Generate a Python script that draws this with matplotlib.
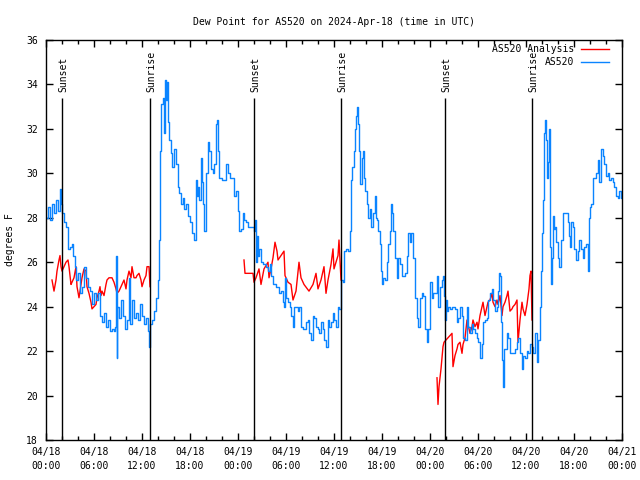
import matplotlib
matplotlib.use('Agg')
import matplotlib.pyplot as plt
import numpy as np

# hours since 2024-04-18 00:00 UTC
obs_hours = [
    0, 0.25, 0.5, 0.75, 1.0, 1.25, 1.5, 1.75, 1.875, 2.0, 2.25, 2.5, 2.75, 3.0, 3.25, 3.375,
    3.625, 3.75, 4.0, 4.25, 4.5, 4.75, 5.0, 5.25, 5.5, 5.75, 6.0, 6.25, 6.5, 6.75, 7.0, 7.25,
    7.5, 7.75, 8.0, 8.25, 8.5, 8.625, 8.75, 8.8125, 8.875, 9.125, 9.375, 9.625, 9.875, 10.125,
    10.375, 10.5, 10.75, 11.0, 11.25, 11.5, 11.75, 12.0, 12.25, 12.5, 12.75, 12.875, 13.0,
    13.25, 13.5, 13.75, 14.0, 14.125, 14.1875, 14.25, 14.375, 14.625, 14.75, 14.875, 15.0,
    15.125, 15.25, 15.375, 15.625, 15.75, 16.0, 16.25, 16.5, 16.625, 16.875, 17.125, 17.25,
    17.5, 17.75, 18.0, 18.25, 18.5, 18.75, 18.875, 19.0, 19.125, 19.375, 19.5, 19.625, 19.75,
    20.0, 20.25, 20.375, 20.625, 20.875, 21.0, 21.25, 21.375, 21.5, 21.625, 22.0, 22.5, 22.75,
    23.0, 23.5, 23.75, 24.0, 24.125, 24.375, 24.625, 24.75, 25.0, 25.25, 26.0, 26.125, 26.25,
    26.375, 26.5, 26.625, 26.875, 27.125, 27.5, 27.75, 28.0, 28.125, 28.375, 28.75, 29.125,
    29.375, 29.625, 29.75, 29.875, 30.0, 30.25, 30.5, 30.625, 30.875, 31.0, 31.25, 31.5,
    31.625, 31.875, 32.125, 32.5, 32.75, 32.875, 33.125, 33.375, 33.5, 33.75, 34.0, 34.125,
    34.375, 34.625, 34.75, 35.0, 35.25, 35.375, 35.625, 35.875, 36.0, 36.25, 36.5, 36.625,
    36.875, 37.125, 37.25, 37.5, 37.75, 38.0, 38.125, 38.25, 38.5, 38.625, 38.75, 38.875,
    39.0, 39.125, 39.25, 39.5, 39.625, 39.75, 39.875, 40.125, 40.25, 40.5, 40.625, 40.875,
    41.125, 41.25, 41.375, 41.5, 41.75, 41.875, 42.0, 42.125, 42.375, 42.625, 42.75, 43.0,
    43.125, 43.25, 43.375, 43.625, 43.875, 44.0, 44.25, 44.5, 44.875, 45.125, 45.25, 45.5,
    45.625, 45.875, 46.125, 46.375, 46.5, 46.75, 47.0, 47.125, 47.375, 47.625, 47.75, 48.0,
    48.25, 48.375, 48.625, 48.875, 49.0, 49.25, 49.5, 49.625, 49.75, 49.875, 50.0, 50.125,
    50.25, 50.5, 50.75, 51.125, 51.375, 51.5, 51.75, 52.0, 52.125, 52.375, 52.625, 52.75,
    53.0, 53.25, 53.375, 53.625, 53.875, 54.0, 54.25, 54.5, 54.625, 54.875, 55.125, 55.25,
    55.5, 55.75, 55.875, 56.125, 56.375, 56.5, 56.625, 56.75, 56.875, 57.0, 57.125, 57.25,
    57.625, 57.75, 58.0, 58.375, 58.625, 58.875, 59.0, 59.25, 59.5, 59.625, 59.875, 60.125,
    60.25, 60.5, 60.75, 60.875, 61.125, 61.375, 61.5, 61.75, 61.875, 62.0, 62.125, 62.25,
    62.375, 62.5, 62.625, 62.75, 62.875, 63.0, 63.125, 63.25, 63.375, 63.5, 63.625, 63.75,
    64.0, 64.125, 64.375, 64.625, 65.0, 65.25, 65.375, 65.5, 65.625, 65.875, 66.0, 66.25,
    66.5, 66.625, 66.875, 67.125, 67.25, 67.5, 67.75, 67.875, 68.0, 68.125, 68.375, 68.5,
    68.75, 69.0, 69.125, 69.375, 69.625, 69.75, 70.0, 70.25, 70.375, 70.625, 70.875, 71.0,
    71.25, 71.5, 71.625, 71.875, 72.0,
]
obs_dewpt = [
    28.0, 28.5, 27.9, 28.6, 28.2, 28.8, 28.3, 29.3, 28.6, 28.2, 27.8, 27.6, 26.6, 26.7, 26.8, 26.3,
    25.8, 25.2, 25.5, 24.6, 24.9, 25.8, 25.3, 24.9, 24.7, 24.1, 24.6, 24.3, 24.6, 23.6, 23.3, 23.7,
    23.1, 23.4, 22.9, 23.0, 22.9, 23.1, 26.3, 21.7, 24.0, 23.5, 24.3, 23.6, 23.0, 23.4,
    25.3, 23.2, 24.3, 23.5, 23.7, 23.4, 24.1, 23.6, 23.2, 23.5, 22.9, 22.2, 23.2,
    23.4, 23.8, 24.4, 25.2, 27.0, 28.9, 31.0, 33.1, 33.4, 31.8, 34.2, 33.3,
    34.1, 32.3, 31.5, 30.9, 30.3, 31.1, 30.4, 29.4, 29.1, 28.6, 28.9, 28.4,
    28.6, 28.1, 27.8, 27.3, 27.0, 29.7, 29.0, 29.4, 28.8, 30.7, 29.6, 28.6, 27.4,
    30.0, 31.4, 31.0, 30.2, 30.0, 30.4, 32.2, 32.4, 31.0, 29.8, 29.7, 30.4, 30.0,
    29.8, 29.0, 29.2, 28.3, 27.4, 27.5, 28.2, 27.9, 27.8, 27.6, 27.4, 27.9, 26.0,
    27.2, 26.3, 26.6, 26.0, 25.9, 25.8, 25.6, 25.9, 25.4, 25.0, 24.9, 24.6,
    24.7, 24.2, 24.0, 25.3, 24.4, 24.2, 24.0, 23.6, 23.1, 24.0, 24.0, 23.8,
    24.0, 23.1, 23.0, 23.3, 23.4, 22.8, 22.5, 23.6, 23.5, 23.1, 23.0, 22.8,
    23.3, 23.0, 22.5, 22.2, 23.4, 23.1, 23.3, 23.7, 23.4, 23.1, 24.0, 23.9,
    25.2, 25.1, 26.5, 26.6, 26.5, 27.4, 29.7, 30.3, 31.0, 32.0, 32.6, 33.0,
    32.2, 31.0, 29.5, 30.7, 31.0, 29.8, 29.2, 28.6, 28.0, 28.4, 27.6, 28.2,
    29.0, 28.0, 27.9, 27.4, 26.8, 25.6, 25.0, 25.3, 25.2, 26.0, 26.8, 27.4,
    28.6, 28.2, 27.4, 26.2, 25.3, 26.2, 25.9, 25.4, 25.5, 26.3, 27.3, 26.9,
    27.3, 26.2, 24.4, 23.5, 23.1, 24.4, 24.6, 24.5, 23.0, 22.4, 23.0, 25.1,
    24.4, 24.6, 24.6, 25.4, 24.0, 24.9, 25.2, 25.4, 24.5, 23.4, 24.3, 23.8,
    24.0, 23.9, 24.0, 23.9, 23.3, 23.5, 24.0, 23.6, 22.6, 22.5, 24.0, 23.1,
    22.8, 23.2, 23.0, 22.8, 22.6, 22.4, 21.7, 22.3, 23.3, 23.4, 23.5, 24.3,
    24.6, 24.8, 24.3, 23.8, 24.0, 24.7, 25.5, 25.4, 23.3, 21.6, 20.4, 22.1,
    22.8, 22.6, 21.9, 21.9, 22.1, 22.4, 22.6, 21.9, 21.2, 21.8, 21.7, 22.0,
    21.9, 22.3, 22.2, 21.9, 22.8, 21.5, 22.5, 24.0, 25.6, 27.3, 28.8, 31.8,
    32.4, 31.5, 29.8, 30.5, 32.0, 26.7, 25.0, 26.2, 28.1, 27.5, 27.6, 26.9,
    26.2, 25.8, 27.0, 28.2, 28.2, 27.8, 27.2, 26.7, 27.8, 27.6, 26.6, 26.1,
    26.5, 27.0, 26.6, 26.2, 26.7, 26.8, 25.6, 28.0, 28.5, 28.6, 29.8, 29.8,
    30.0, 30.6, 29.6, 31.1, 30.8, 30.4, 29.9, 30.0, 29.7, 29.8, 29.6, 29.4,
    29.0, 28.9, 29.2, 28.9, 29.0,
]

# analysis series, three separate runs
ana_hours_1 = [
    0.75, 1.0, 1.25, 1.375, 1.625, 1.75, 1.875, 2.0, 2.25, 2.5, 2.75, 2.875, 3.125, 3.25, 3.5,
    3.75, 3.875, 4.125, 4.375, 4.5, 4.75, 5.0, 5.125, 5.375, 5.625, 5.75, 6.0, 6.25, 6.375,
    6.625, 6.75, 6.875, 7.0, 7.25, 7.5, 7.625, 7.875, 8.25, 8.5, 8.75, 8.875, 9.125, 9.375,
    9.5, 9.75, 10.0, 10.125, 10.375, 10.625, 10.75, 11.0, 11.25, 11.375, 11.625, 11.875,
    12.0, 12.25, 12.5, 12.625, 12.875, 13.0,
]
ana_dewpt_1 = [
    25.2, 24.7, 25.2, 25.6, 26.1, 26.3, 25.8, 25.6, 25.8, 26.0, 26.1, 25.8, 25.0, 25.1, 25.3,
    25.8, 24.9, 24.4, 25.0, 25.3, 25.7, 25.6, 24.9, 24.6, 24.2, 23.9, 24.0, 24.1, 24.4,
    24.7, 24.9, 24.5, 24.7, 24.5, 25.0, 25.2, 25.3, 25.3, 25.1, 24.8, 24.6, 24.7, 24.9,
    25.0, 25.2, 24.8, 25.2, 25.6, 25.3, 25.8, 25.3, 25.3, 25.4, 25.5, 25.2,
    24.9, 25.2, 25.4, 25.8, 25.8, 24.9,
]
ana_hours_2 = [
    24.75, 24.875, 25.875, 26.0, 26.25, 26.625, 26.875, 27.25, 27.75, 27.875, 28.125, 28.375,
    28.625, 28.875, 29.0, 29.75, 29.875, 30.25, 30.625, 30.875, 31.25, 31.625, 31.875, 32.25,
    32.875, 33.375, 33.75, 34.0, 34.375, 34.75, 35.0, 35.25, 35.625, 35.875, 36.0, 36.5,
    36.625, 36.875,
]
ana_dewpt_2 = [
    26.1, 25.5, 25.5, 25.1, 25.3, 25.7, 25.0, 25.7, 26.0, 25.3, 25.7, 26.2,
    26.9, 26.5, 26.1, 26.5, 25.4, 25.1, 25.0, 24.3, 24.7, 26.0, 25.3, 25.0,
    24.7, 25.0, 25.5, 24.8, 25.2, 25.8, 24.6, 25.2, 25.9, 26.6, 25.7, 26.3,
    27.0, 25.2,
]
ana_hours_3 = [
    48.875, 49.0, 49.125, 49.375, 49.625, 49.75, 50.0, 50.75, 50.875, 51.125, 51.375, 51.5,
    51.75, 52.0, 52.125, 52.375, 52.625, 52.75, 53.0, 53.25, 53.375, 53.625, 53.875, 54.0,
    54.25, 54.5, 54.625, 54.875, 55.125, 55.25, 55.5, 55.75, 55.875, 56.125, 56.375, 56.5,
    56.75, 57.0, 57.125, 57.375, 57.625, 57.75, 58.0, 58.25, 58.375, 58.625, 58.875, 59.0,
    59.25, 59.5, 59.625, 59.875, 60.125, 60.375, 60.5, 60.625, 60.75,
]
ana_dewpt_3 = [
    20.8, 19.6, 20.4, 21.2, 22.2, 22.4, 22.5, 22.8, 21.3, 21.8, 22.1, 22.3,
    22.4, 21.9, 22.3, 22.6, 23.4, 23.2, 22.8, 23.1, 23.4, 23.1, 23.3, 23.0,
    23.6, 24.0, 24.2, 23.6, 24.0, 24.2, 24.3, 24.6, 24.2, 24.0, 24.3, 24.1,
    24.5, 23.6, 24.0, 24.2, 24.5, 24.7, 23.8, 23.9, 24.0, 24.1, 24.3, 22.4,
    23.4, 24.2, 23.9, 23.6, 24.1, 24.8, 25.4, 25.6, 23.4,
]

sun_hours = [2.0, 13.0, 26.0, 36.875, 49.875, 60.75]
sun_labels = ['Sunset', 'Sunrise', 'Sunset', 'Sunrise', 'Sunset', 'Sunrise']

tick_hours = [0, 6, 12, 18, 24, 30, 36, 42, 48, 54, 60, 66, 72]
tick_labels = ['04/18\n00:00', '04/18\n06:00', '04/18\n12:00', '04/18\n18:00',
               '04/19\n00:00', '04/19\n06:00', '04/19\n12:00', '04/19\n18:00',
               '04/20\n00:00', '04/20\n06:00', '04/20\n12:00', '04/20\n18:00',
               '04/21\n00:00']

plt.rcParams['font.family'] = 'DejaVu Sans Mono'
plt.rcParams['font.size'] = 7

fig = plt.figure(figsize=(6.4, 4.8), dpi=100)
ax = fig.add_axes([46/640, 40/480, 576/640, 400/480])

red = '#ff0000'
blue = '#0a84ff'

for i, (h, v) in enumerate([(ana_hours_1, ana_dewpt_1), (ana_hours_2, ana_dewpt_2),
                            (ana_hours_3, ana_dewpt_3)]):
    ax.plot(h, v, color=red, lw=1, label='AS520 Analysis' if i == 0 else None)
ax.plot(obs_hours, obs_dewpt, color=blue, lw=1, drawstyle='steps-post', label='AS520')

for h, name in zip(sun_hours, sun_labels):
    ax.vlines(h, 18, 33.4, color='black', lw=1)
    ax.text(h + 0.15, 33.65, name, rotation=90, ha='center', va='bottom', fontsize=7)

ax.set_xlim(0, 72)
ax.set_ylim(18, 36)
ax.set_xticks(tick_hours)
ax.set_xticklabels(tick_labels, linespacing=1.5)
ax.set_xticks(np.arange(0, 73, 2), minor=True)
ax.set_yticks(np.arange(18, 37, 2))
ax.tick_params(direction='in', length=5, width=1, top=True, right=True, pad=5)
ax.tick_params(which='minor', direction='in', length=3, width=1, top=True, bottom=True)
ax.tick_params(axis='y', pad=6)
for s in ax.spines.values():
    s.set_linewidth(1)

ax.set_ylabel('degrees F', labelpad=8)
ax.set_title('Dew Point for AS520 on 2024-Apr-18 (time in UTC)', fontsize=7, pad=11)

ax.legend(loc='upper right', bbox_to_anchor=(0.977, 0.99), frameon=False,
          markerfirst=False, handlelength=2.9, fontsize=7, labelspacing=0.35,
          borderaxespad=0, borderpad=0, handletextpad=0.7)

fig.savefig('out.png', dpi=100)
